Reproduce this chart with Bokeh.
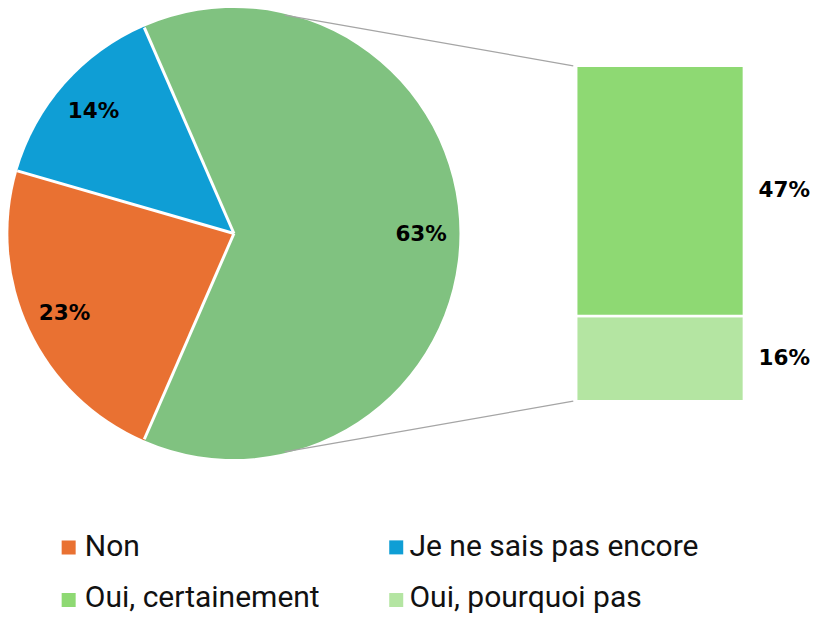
import math
from bokeh.plotting import figure
from bokeh.models import Range1d
from bokeh.core.properties import value
from bokeh.embed import file_html
from bokeh.resources import INLINE

# ---- data ----
categories = ["Non", "Je ne sais pas encore", "Oui, certainement", "Oui, pourquoi pas"]
values = [23, 14, 47, 16]
colors = ["#E97132", "#0F9ED5", "#8ED973", "#B4E5A2"]
pie_other_color = "#80C280"
pie_labels = ["63%", "14%", "23%"]
bar_labels = ["47%", "16%"]

# ---- layout: data units = reference pixels, y = H - y_screen ----
H = 636
p = figure(width=815, height=620, x_range=Range1d(0, 831), y_range=Range1d(0, 636),
           output_backend="svg", toolbar_location=None, min_border=0)
p.axis.visible = False
p.grid.visible = False
p.outline_line_color = None
p.background_fill_color = "white"

cx, cy, R = 238, H - 239, 230

# pie: combined "Oui" slice, then Je ne sais pas, then Non (anticlockwise)
other = values[2] + values[3]
pie_vals = [other, values[1], values[0]]
pie_cols = [pie_other_color, colors[1], colors[0]]
total = sum(pie_vals)
start = -math.radians(other / total * 360 / 2)
starts, ends, mids = [], [], []
a = start
for v in pie_vals:
    d = math.radians(v / total * 360)
    starts.append(a)
    ends.append(a + d)
    mids.append(a + d / 2)
    a += d

p.wedge(x=[cx] * 3, y=[cy] * 3, radius=R, start_angle=starts, end_angle=ends,
        fill_color=pie_cols, line_color=None)
# white separators
p.segment(x0=[cx] * 3, y0=[cy] * 3,
          x1=[cx + R * math.cos(s) for s in starts],
          y1=[cy + R * math.sin(s) for s in starts],
          line_color="white", line_width=3)

lr = 0.83 * R
p.text(x=[cx + lr * math.cos(m) for m in mids], y=[cy + lr * math.sin(m) for m in mids],
       text=pie_labels, text_font=value("DejaVu Sans"), text_font_style="bold",
       text_font_size="21.5px", text_align="center", text_baseline="middle", text_color="black")

# bar of "Oui"
bx0, bx1 = 587, 758
b_bottom = H - 411
k = 344 / other
seg_vals = [values[3], values[2]]
seg_cols = [colors[3], colors[2]]
bots, tops = [], []
acc = 0
for v in seg_vals:
    bots.append(b_bottom + acc * k)
    acc += v
    tops.append(b_bottom + acc * k)
p.quad(left=[bx0] * 2, right=[bx1] * 2, bottom=bots, top=tops,
       fill_color=seg_cols, line_color="white", line_width=2.5)

p.text(x=[773] * 2, y=[(b + t) / 2 + 1 for b, t in zip(bots, tops)],
       text=[bar_labels[1], bar_labels[0]], text_font=value("DejaVu Sans"),
       text_font_style="bold", text_font_size="21.5px", text_align="left",
       text_baseline="middle", text_color="black")

# connector lines
ang = math.radians(77)
p.segment(x0=[cx + R * math.cos(ang), cx + R * math.cos(-ang)],
          y0=[cy + R * math.sin(ang), cy + R * math.sin(-ang)],
          x1=[bx0 - 3, bx0 - 3], y1=[tops[-1], bots[0]],
          line_color="#A5A5A5", line_width=1.3)

# legend (manual, 2 columns)
lx_sq = [69.5, 403.5, 69.5, 403.5]
lx_tx = [86, 417, 86, 417]
ly_sq = [H - 561, H - 561, H - 615, H - 615]
ly_tx = [H - 559.5, H - 559.5, H - 611.5, H - 611.5]
p.scatter(x=lx_sq, y=ly_sq, marker="square", size=14, fill_color=colors, line_color=None)
p.text(x=lx_tx, y=ly_tx, text=categories, text_font=value("Roboto"), text_font_size="30px",
       text_align="left", text_baseline="middle", text_color="#111111")

open("out.html", "w").write(file_html(p, INLINE))
